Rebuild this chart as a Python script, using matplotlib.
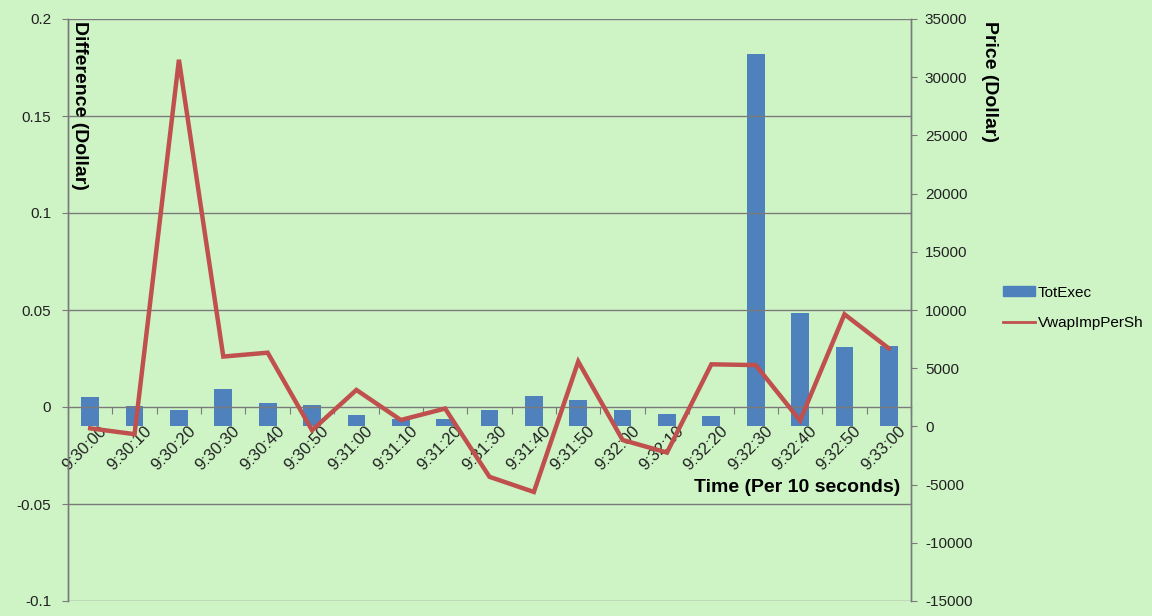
import numpy as np
import matplotlib
matplotlib.use("Agg")
import matplotlib.pyplot as plt
import matplotlib.transforms as mtransforms
from matplotlib.patches import Patch
from matplotlib.lines import Line2D

# Data
times = ['9:30:00', '9:30:10', '9:30:20', '9:30:30', '9:30:40', '9:30:50',
         '9:31:00', '9:31:10', '9:31:20', '9:31:30', '9:31:40', '9:31:50',
         '9:32:00', '9:32:10', '9:32:20', '9:32:30', '9:32:40', '9:32:50',
         '9:33:00']
tot_exec = [2500, 1750, 1400, 3200, 2000, 1800, 950, 600, 600, 1400, 2650,
            2250, 1400, 1100, 900, 32000, 9700, 6850, 6900]
vwap_imp = [-0.011, -0.014, 0.179, 0.026, 0.028, -0.012, 0.0088, -0.0067,
            -0.0008, -0.036, -0.0438, 0.0234, -0.017, -0.0235, 0.022, 0.0216,
            -0.007, 0.0478, 0.0302]

bar_color = '#4F81BD'
line_color = '#C0504D'
bg = '#cef4c6'
grey = '#7a7a7a'

plt.rcParams['font.family'] = ['Liberation Sans', 'DejaVu Sans']
plt.rcParams['axes.unicode_minus'] = False

fig = plt.figure(figsize=(11.52, 6.16), dpi=100, facecolor=bg)
ax = fig.add_axes([68 / 1152, 1 - 601 / 616, (911 - 68) / 1152, (601 - 19) / 616])
ax2 = ax.twinx()
ax.set_zorder(ax2.get_zorder() + 1)
ax.patch.set_visible(False)
ax2.patch.set_visible(False)

x = np.arange(len(times))

# bars on the right axis
ax2.bar(x, tot_exec, width=0.4, color=bar_color, zorder=2)
ax2.set_ylim(-15000, 35000)
ax2.set_yticks(np.arange(-15000, 35001, 5000))
ax2.tick_params(axis='y', direction='out', length=4, color=grey,
                labelsize=11, labelcolor='#222222', pad=6)

# line on the left axis
ax.plot(x, vwap_imp, color=line_color, lw=3.2, solid_joinstyle='miter', zorder=3)
ax.set_ylim(-0.1, 0.2)
ax.set_yticks([-0.1, -0.05, 0, 0.05, 0.1, 0.15, 0.2])
ax.set_yticklabels(['-0.1', '-0.05', '0', '0.05', '0.1', '0.15', '0.2'])
ax.set_xlim(-0.5, len(times) - 0.5)
ax.tick_params(axis='y', direction='out', length=4, color=grey,
               labelsize=11, labelcolor='#222222', pad=8)
for yv in [-0.1, -0.05, 0.05, 0.1, 0.15, 0.2]:
    ax.axhline(yv, color=grey, lw=1, zorder=1)

# category axis crossing at zero
ax.spines['bottom'].set_position(('data', 0))
ax.set_xticks(np.arange(len(times) + 1) - 0.5)
ax.set_xticklabels([])
ax.tick_params(axis='x', which='major', direction='out', length=5, color=grey)
ax.set_xticks(x, minor=True)
ax.set_xticklabels(times, minor=True, rotation=45, ha='right',
                   rotation_mode='anchor', fontsize=12, color='#222222')
ax.tick_params(axis='x', which='minor', length=0, pad=12)
shift = mtransforms.ScaledTranslation(9 / 100, 0, fig.dpi_scale_trans)
for lbl in ax.get_xticklabels(minor=True):
    lbl.set_transform(lbl.get_transform() + shift)

for a in (ax, ax2):
    a.spines['top'].set_visible(False)
    for s in ('left', 'right', 'bottom'):
        a.spines[s].set_color(grey)
        a.spines[s].set_linewidth(1)
ax2.spines['bottom'].set_visible(False)

# axis titles
fig.text(71 / 1152, 1 - 21 / 616, 'Difference (Dollar)', rotation=-90,
         ha='left', va='top', fontsize=14, fontweight='bold')
fig.text(981 / 1152, 1 - 21 / 616, 'Price (Dollar)', rotation=-90,
         ha='left', va='top', fontsize=14, fontweight='bold')
fig.text(900 / 1152, 1 - 487 / 616, 'Time (Per 10 seconds)', ha='right',
         va='center', fontsize=14, fontweight='bold')

handles = [Patch(facecolor=bar_color, edgecolor=bar_color),
           Line2D([0], [0], color=line_color, lw=2)]
fig.legend(handles, ['TotExec', 'VwapImpPerSh'], loc='center left',
           bbox_to_anchor=(992 / 1152, 1 - 308 / 616), frameon=False,
           fontsize=11, handlelength=2.1, handleheight=0.6,
           labelspacing=1.1, handletextpad=0.2, borderpad=0.2)

fig.savefig('out.png', dpi=100, facecolor=bg)
